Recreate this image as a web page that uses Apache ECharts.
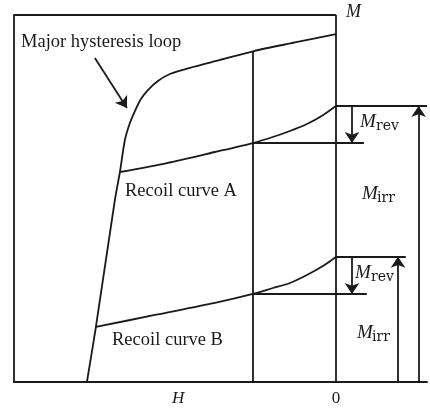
<!DOCTYPE html>
<html>
<head>
<meta charset="utf-8">
<script src="https://cdn.jsdelivr.net/npm/echarts@6/dist/echarts.min.js"></script>
<style>
  html, body { margin: 0; padding: 0; background: #fff; }
  #chart { width: 430px; height: 412px; }
</style>
</head>
<body>
<div id="chart"></div>
<script>
// H, M pairs (arbitrary units, H = 0 at the right edge of the box)
const majorLoop = [
  [-7.735, 0.000], [-7.456, 1.499], [-6.866, 4.959], [-6.710, 5.722],
  [-6.555, 6.594], [-6.400, 7.057], [-6.244, 7.384], [-6.058, 7.711],
  [-5.840, 7.956], [-5.530, 8.202], [-5.157, 8.392], [-4.442, 8.583],
  [-3.604, 8.774], [-2.547, 9.019], [-1.274, 9.251], [0, 9.482]
];
const recoilA = [
  [-6.710, 5.722], [-5.250, 5.967], [-3.759, 6.267], [-2.578, 6.512],
  [-1.957, 6.676], [-1.429, 6.839], [-0.901, 7.030], [-0.404, 7.270], [0, 7.520]
];
const recoilB = [
  [-7.456, 1.499], [-5.623, 1.826], [-3.759, 2.153], [-2.578, 2.398],
  [-1.957, 2.561], [-1.429, 2.698], [-0.901, 2.916], [-0.404, 3.160], [0, 3.406]
];
const hRecoil = -2.57;
const mLoopAtRecoil = 9.02;     // major loop at hRecoil
const mZero = [7.52, 3.41];     // M at H = 0, curves A and B
const mAtRecoil = [6.51, 2.40];  // M at hRecoil, curves A and B

const ink = '#1a1a1a';
const lw = 1.8;

function seg(a, b) {
  return [{ coord: a }, { coord: b }];
}

const plainSegs = [
  seg([-10, 10], [0, 10]),
  seg([0, 10], [0, 0]),
  seg([hRecoil, mLoopAtRecoil], [hRecoil, 0]),
  seg([0, mZero[0]], [2.83, mZero[0]]),
  seg([hRecoil, mAtRecoil[0]], [0.87, mAtRecoil[0]]),
  seg([0, mZero[1]], [2.17, mZero[1]]),
  seg([hRecoil, mAtRecoil[1]], [0.96, mAtRecoil[1]])
];
const arrowSegs = [
  seg([0.5, mZero[0]], [0.5, mAtRecoil[0]]),
  seg([2.57, 0], [2.57, mZero[0]]),
  seg([0.5, mZero[1]], [0.5, mAtRecoil[1]]),
  seg([1.93, 0], [1.93, mZero[1]]),
  seg([-7.487, 8.828], [-6.493, 7.466])
];

function curve(name, data) {
  return {
    name: name,
    type: 'line',
    data: data,
    showSymbol: false,
    smooth: 0.25,
    silent: true,
    lineStyle: { color: ink, width: lw }
  };
}

const serif = '"Liberation Serif", "DejaVu Serif", serif';
const subFamily = '"DejaVu Serif", serif';

function txt(x, y, text, size, italic, family) {
  return {
    type: 'text', x: x, y: y, silent: true,
    style: {
      text: text, fill: ink,
      fontSize: size, fontFamily: family || serif,
      fontStyle: italic ? 'italic' : 'normal',
      textAlign: 'left', textVerticalAlign: 'middle',
      align: 'left', verticalAlign: 'middle'
    }
  };
}

const myChart = echarts.init(document.getElementById('chart'));
const option = {
  animation: false,
  grid: { left: 14, right: 3, top: 15, bottom: 30 },
  xAxis: {
    type: 'value', min: -10, max: 2.83, interval: 10,
    axisLine: { onZero: false, lineStyle: { color: ink, width: lw } },
    axisTick: { show: false },
    splitLine: { show: false },
    axisLabel: {
      margin: 8, color: ink, fontSize: 17, fontFamily: serif,
      showMinLabel: false, showMaxLabel: false,
      formatter: v => (v === 0 ? '0' : '')
    }
  },
  yAxis: {
    type: 'value', min: 0, max: 10,
    axisLine: { show: true, onZero: false, lineStyle: { color: ink, width: lw } },
    axisTick: { show: false },
    splitLine: { show: false },
    axisLabel: { show: false }
  },
  series: [
    Object.assign(curve('Major hysteresis loop', majorLoop), {
      markLine: {
        silent: true, animation: false,
        symbol: ['none', 'none'],
        label: { show: false },
        lineStyle: { color: ink, width: lw, type: 'solid' },
        data: plainSegs
      }
    }),
    Object.assign(curve('Recoil curve A', recoilA), {
      markLine: {
        silent: true, animation: false,
        symbol: ['none', 'arrow'],
        symbolSize: 11,
        label: { show: false },
        lineStyle: { color: ink, width: lw, type: 'solid' },
        data: arrowSegs
      }
    }),
    curve('Recoil curve B', recoilB)
  ],
  graphic: [
    txt(21, 42, 'Major hysteresis loop', 18.5),
    txt(125, 191, 'Recoil curve A', 18.5),
    txt(112, 340, 'Recoil curve B', 18.5),
    txt(346, 12, 'M', 18, true),
    txt(360, 122, 'M', 19, true),
    txt(376, 126, 'rev', 14, false, subFamily),
    txt(362, 194, 'M', 19, true),
    txt(377, 198, 'irr', 14, false, subFamily),
    txt(355, 273, 'M', 19, true),
    txt(371, 277, 'rev', 14, false, subFamily),
    txt(357, 333, 'M', 19, true),
    txt(372, 337, 'irr', 14, false, subFamily),
    txt(172, 399, 'H', 17, true)
  ]
};
myChart.setOption(option);
window.onresize = myChart.resize;
</script>
</body>
</html>
